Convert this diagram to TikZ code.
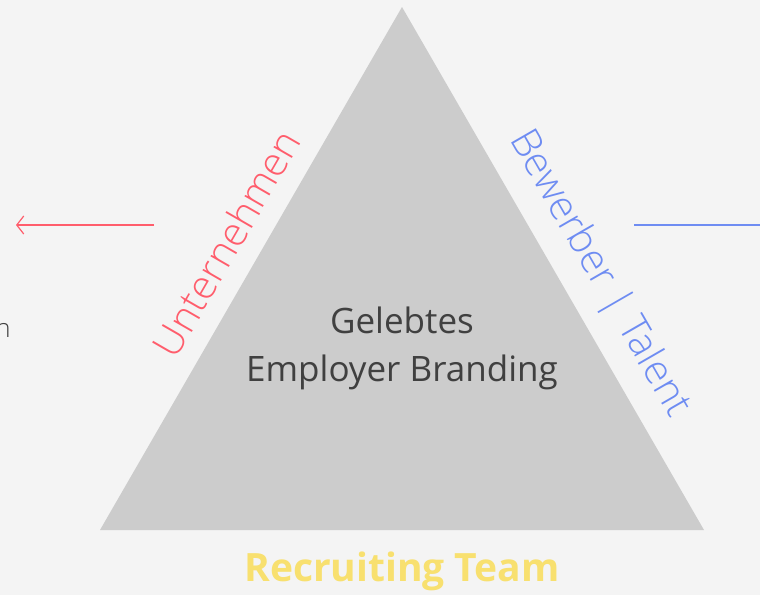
\documentclass[tikz,border=0pt]{standalone}
\usepackage{fontspec}
\setmainfont{Open Sans}
\newfontfamily\lightfont{Open Sans Light}
\usetikzlibrary{arrows.meta}
\definecolor{bg}{HTML}{F4F4F4}
\definecolor{tri}{HTML}{CCCCCC}
\definecolor{redc}{HTML}{FF5D6C}
\definecolor{bluec}{HTML}{6E8CF2}
\definecolor{yell}{HTML}{F8E06F}
\definecolor{txt}{HTML}{404040}
\begin{document}
\begin{tikzpicture}[x=1pt,y=-1pt,
  sidelabel/.style={font=\lightfont\fontsize{40}{40}\selectfont, inner sep=0pt}]
\fill[bg] (0,0) rectangle (760,595);
\useasboundingbox (0,0) rectangle (760,595);
\coordinate (apex) at (402,7);
\coordinate (bl) at (100,530);
\coordinate (br) at (704,530);
\fill[tri] (apex) -- (br) -- (bl) -- cycle;
\node[font=\fontsize{35}{48}\selectfont, text=txt, align=center] (center) at (402,348) {Gelebtes\\Employer Branding};
\node[sidelabel, text=redc, rotate=60] (unt) at (226,243) {Unternehmen};
\node[sidelabel, text=bluec, rotate=-60] (bew) at (599,274) {Bewerber | Talent};
\node[font=\bfseries\fontsize{39}{39}\selectfont, text=yell] (rec) at (402,571) {Recruiting Team};
\coordinate (la) at (154,225);
\coordinate (lb) at (16,225);
\draw[redc, line width=1.2pt, -{Straight Barb[length=7pt,width=18pt,line width=1.2pt]}] (la) -- (lb);
\coordinate (ra) at (634,225);
\coordinate (rb) at (760,225);
\draw[bluec, line width=1.5pt] (ra) -- (rb);
\node[font=\lightfont\fontsize{26}{26}\selectfont, text=txt, anchor=base east, inner sep=0pt] (n) at (11,337) {n};
\end{tikzpicture}
\end{document}
